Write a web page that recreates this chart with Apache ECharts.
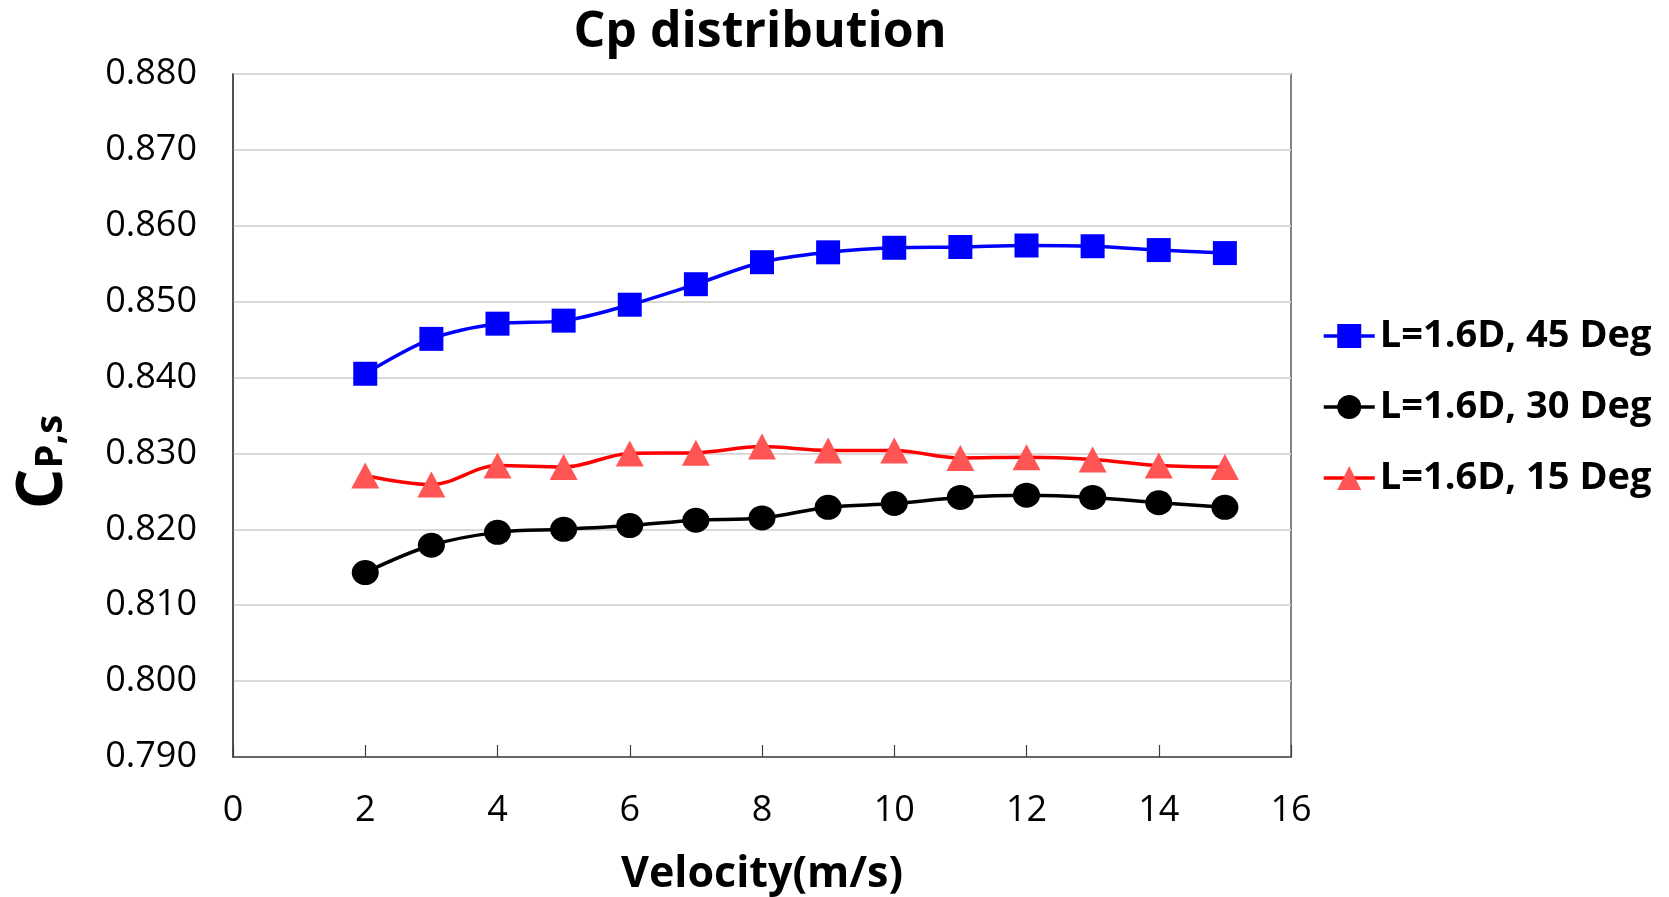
<!DOCTYPE html>
<html>
<head>
<meta charset="utf-8">
<script src="https://cdn.jsdelivr.net/npm/echarts@6/dist/echarts.min.js"></script>
<style>
  html, body { margin: 0; padding: 0; background: #fff; }
  #chart { width: 1669px; height: 897px; }
</style>
</head>
<body>
<div id="chart"></div>
<script>
// Velocity (m/s) at which each case was computed
const velocity = [2, 3, 4, 5, 6, 7, 8, 9, 10, 11, 12, 13, 14, 15];

// Pressure recovery coefficient C_P,s per case
const cp45 = [0.8405, 0.8451, 0.8471, 0.8475, 0.8496, 0.8523, 0.8552, 0.8565, 0.8571, 0.8572, 0.8574, 0.8573, 0.8568, 0.8564];
const cp30 = [0.8143, 0.8179, 0.8196, 0.8200, 0.8205, 0.8212, 0.8215, 0.8229, 0.8234, 0.8242, 0.8245, 0.8242, 0.8235, 0.8229];
const cp15 = [0.8271, 0.8259, 0.8284, 0.8282, 0.8300, 0.8301, 0.8309, 0.8304, 0.8304, 0.8294, 0.8295, 0.8292, 0.8284, 0.8282];

const seriesNames = ['L=1.6D, 45 Deg', 'L=1.6D, 30 Deg', 'L=1.6D, 15 Deg'];

const FONT = '"Open Sans", "Liberation Sans", sans-serif';

function pairs(ys) {
  return velocity.map((v, i) => [v, ys[i]]);
}

const chart = echarts.init(document.getElementById('chart'));

chart.setOption({
  animation: false,
  backgroundColor: '#ffffff',
  title: {
    text: 'Cp distribution',
    left: 755,
    top: 3,
    textAlign: 'center',
    textStyle: { fontFamily: FONT, fontWeight: 'bold', fontSize: 50, color: '#000' }
  },
  grid: {
    left: 233, right: 378, top: 74, bottom: 140,
    outerBoundsMode: 'none',
    containLabel: false,
    show: true, borderColor: '#5a5a5a', borderWidth: 1.5, backgroundColor: 'transparent'
  },
  legend: {
    orient: 'vertical',
    left: 1317,
    top: 312,
    itemWidth: 51,
    itemHeight: 30,
    itemGap: 33,
    lineStyle: { width: 3.5 },
    textStyle: { fontFamily: FONT, fontWeight: 'bold', fontSize: 38, color: '#000' },
    data: seriesNames
  },
  xAxis: {
    type: 'value',
    min: 0, max: 16, interval: 2,
    name: 'Velocity(m/s)',
    nameLocation: 'middle',
    nameGap: 96,
    nameTextStyle: { fontFamily: FONT, fontWeight: 'bold', fontSize: 43, color: '#000' },
    axisLine: { lineStyle: { color: '#404040', width: 1.5 } },
    axisTick: { show: true, inside: true, length: 12, lineStyle: { color: '#404040', width: 1.2 } },
    axisLabel: { fontFamily: FONT, fontSize: 36, color: '#000', margin: 36 },
    splitLine: { show: false }
  },
  yAxis: {
    type: 'value',
    min: 0.79, max: 0.88, interval: 0.01,
    axisLine: { show: true, lineStyle: { color: '#404040', width: 1.5 } },
    axisTick: { show: false },
    axisLabel: {
      fontFamily: FONT, fontSize: 36, color: '#000', margin: 36,
      formatter: v => v.toFixed(3)
    },
    splitLine: { show: true, lineStyle: { color: '#d9d9d9', width: 2 } }
  },
  graphic: [{
    type: 'text',
    x: 44, y: 462,
    rotation: Math.PI / 2,
    style: {
      text: '{c|C}{s|P,s}',
      align: 'center',
      verticalAlign: 'middle',
      rich: {
        c: { fontFamily: FONT, fontWeight: 'bold', fontSize: 64, fill: '#000' },
        s: { fontFamily: FONT, fontWeight: 'bold', fontSize: 38, fill: '#000', padding: [0, 0, -14, 0] }
      }
    }
  }],
  series: [
    {
      name: seriesNames[0], type: 'line', data: pairs(cp45), smooth: 0.35,
      symbol: 'rect', symbolSize: 24,
      lineStyle: { color: '#0000ff', width: 3.5 },
      itemStyle: { color: '#0000ff' }
    },
    {
      name: seriesNames[1], type: 'line', data: pairs(cp30), smooth: 0.35,
      symbol: 'circle', symbolSize: [27, 25],
      lineStyle: { color: '#000000', width: 3.5 },
      itemStyle: { color: '#000000' }
    },
    {
      name: seriesNames[2], type: 'line', data: pairs(cp15), smooth: 0.35,
      symbol: 'triangle', symbolSize: [28, 26],
      lineStyle: { color: '#ff0000', width: 3.5 },
      itemStyle: { color: '#ff5555' }
    }
  ]
});
</script>
</body>
</html>
